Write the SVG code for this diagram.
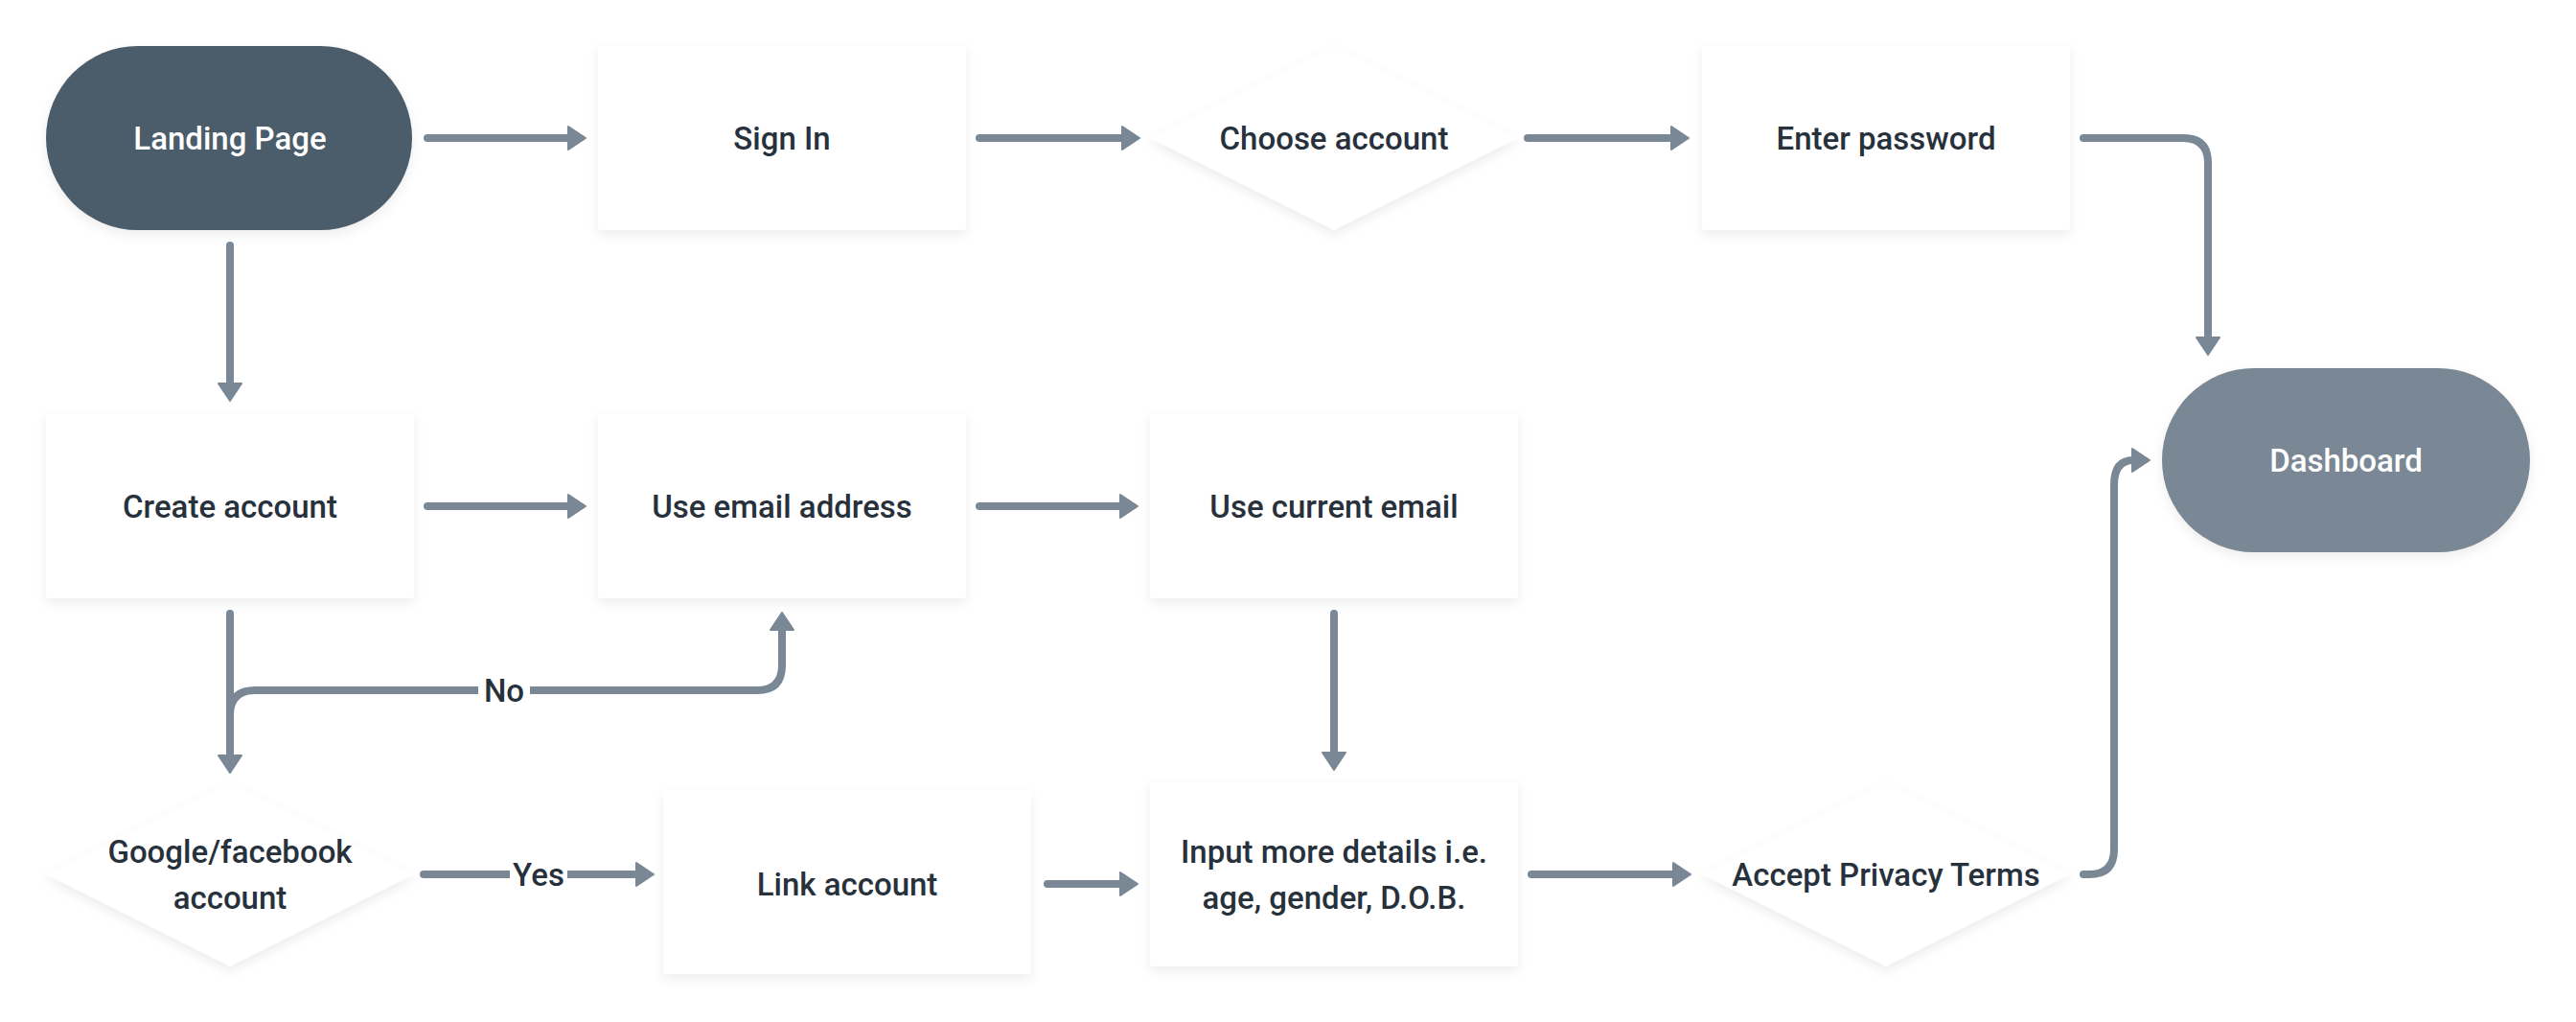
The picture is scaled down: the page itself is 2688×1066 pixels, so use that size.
<svg xmlns="http://www.w3.org/2000/svg" width="2688" height="1066" viewBox="0 0 2688 1066">
<defs>
<filter id="sh" x="-20%" y="-20%" width="140%" height="150%">
<feDropShadow dx="0" dy="5" stdDeviation="6" flood-color="#000" flood-opacity="0.07"/>
</filter>
<marker id="ah" viewBox="0 0 20 26" refX="2" refY="13" markerWidth="20" markerHeight="26" markerUnits="userSpaceOnUse" orient="auto">
<path d="M1,1 L19,13 L1,25 z" fill="#7a8896" stroke="#7a8896" stroke-width="2" stroke-linejoin="round"/>
</marker>
</defs>
<style>
.box{fill:#ffffff;filter:url(#sh)}
.lbl{font-family:Roboto,"Liberation Sans",sans-serif;font-size:33px;font-weight:500;fill:#27313c;text-anchor:middle;dominant-baseline:central}
.wl{fill:#ffffff}
.c{fill:none;stroke:#7a8896;stroke-width:8;stroke-linecap:round;stroke-linejoin:round;marker-end:url(#ah)}
.cn{fill:none;stroke:#7a8896;stroke-width:8;stroke-linecap:round}
</style>
<rect width="2688" height="1066" fill="#ffffff"/>
<g id="connectors">
<path class="c" d="M446 144 H594"/>
<path class="c" d="M1022 144 H1172"/>
<path class="c" d="M1594 144 H1745"/>
<path class="c" d="M2174 144 H2278 Q2304 144 2304 170 V353"/>
<path class="c" d="M240 256 V401"/>
<path class="c" d="M446 528 H594"/>
<path class="c" d="M1022 528 H1170"/>
<path class="c" d="M240 640 V789"/>
<path class="c" d="M240 770 V746 Q240 720 266 720 H790 Q816 720 816 694 V656"/>
<rect x="499" y="700" width="54" height="40" class="wl"/>
<text class="lbl" x="526" y="720">No</text>
<path class="c" d="M442 912 H665"/>
<rect x="532" y="892" width="60" height="40" class="wl"/>
<text class="lbl" x="562" y="912">Yes</text>
<path class="c" d="M1093 922 H1170"/>
<path class="c" d="M1392 640 V786"/>
<path class="c" d="M1598 912 H1747"/>
<path class="c" d="M2174 912 H2180 Q2206 912 2206 886 V506 Q2206 480 2226 480"/>
</g>
<g id="landing-page">
<rect x="48" y="48" width="382" height="192" rx="96" fill="#4b5b6a" filter="url(#sh)"/>
<text class="lbl" x="240" y="144" style="fill:#ffffff">Landing Page</text>
</g>
<g id="sign-in">
<rect class="box" x="624" y="48" width="384" height="192" rx="4"/>
<text class="lbl" x="816" y="144">Sign In</text>
</g>
<g id="choose-account">
<polygon class="box" points="1392,48 1584,144 1392,240 1200,144"/>
<text class="lbl" x="1392" y="144">Choose account</text>
</g>
<g id="enter-password">
<rect class="box" x="1776" y="48" width="384" height="192" rx="4"/>
<text class="lbl" x="1968" y="144">Enter password</text>
</g>
<g id="dashboard">
<rect x="2256" y="384" width="384" height="192" rx="96" fill="#7a8896" filter="url(#sh)"/>
<text class="lbl" x="2448" y="480" style="fill:#ffffff">Dashboard</text>
</g>
<g id="create-account">
<rect class="box" x="48" y="432" width="384" height="192" rx="4"/>
<text class="lbl" x="240" y="528">Create account</text>
</g>
<g id="use-email-address">
<rect class="box" x="624" y="432" width="384" height="192" rx="4"/>
<text class="lbl" x="816" y="528">Use email address</text>
</g>
<g id="use-current-email">
<rect class="box" x="1200" y="432" width="384" height="192" rx="4"/>
<text class="lbl" x="1392" y="528">Use current email</text>
</g>
<g id="google-facebook-account">
<polygon class="box" points="240,816 432,912 240,1008 48,912"/>
<text class="lbl" x="240" y="888">Google/facebook</text>
<text class="lbl" x="240" y="936">account</text>
</g>
<g id="link-account">
<rect class="box" x="692" y="824" width="384" height="192" rx="4"/>
<text class="lbl" x="884" y="922">Link account</text>
</g>
<g id="input-more-details">
<rect class="box" x="1200" y="816" width="384" height="192" rx="4"/>
<text class="lbl" x="1392" y="888">Input more details i.e.</text>
<text class="lbl" x="1392" y="936">age, gender, D.O.B.</text>
</g>
<g id="accept-privacy-terms">
<polygon class="box" points="1968,816 2160,912 1968,1008 1776,912"/>
<text class="lbl" x="1968" y="912">Accept Privacy Terms</text>
</g>
</svg>
